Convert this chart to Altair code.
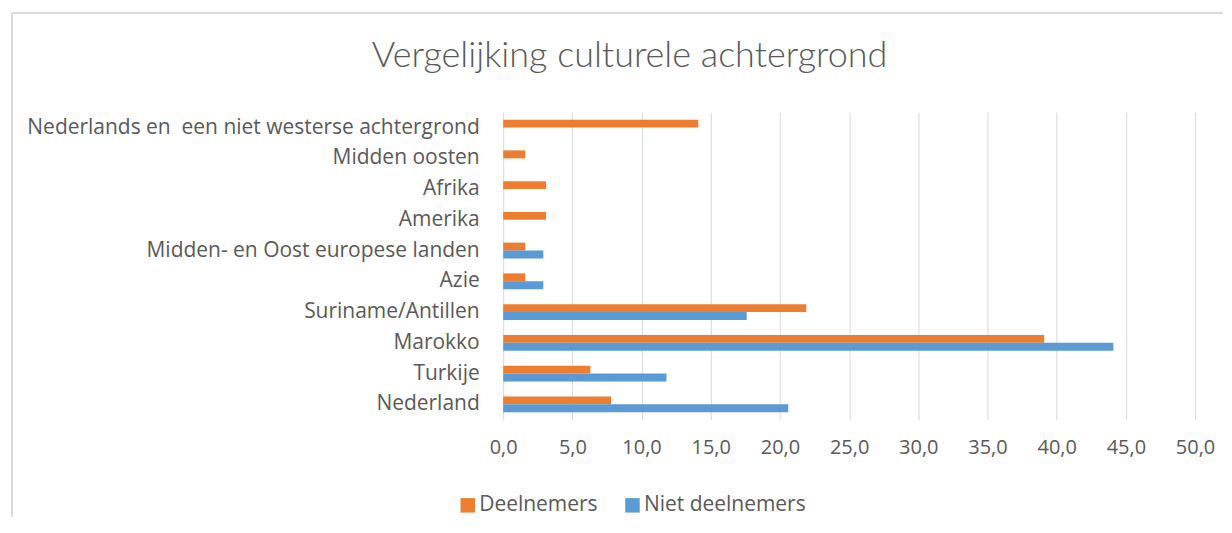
import altair as alt
import pandas as pd

categories = [
    "Nederlands en  een niet westerse achtergrond",
    "Midden oosten",
    "Afrika",
    "Amerika",
    "Midden- en Oost europese landen",
    "Azie",
    "Suriname/Antillen",
    "Marokko",
    "Turkije",
    "Nederland",
]
series = ["Deelnemers", "Niet deelnemers"]
deelnemers = [14.1, 1.6, 3.1, 3.1, 1.6, 1.6, 21.9, 39.1, 6.3, 7.8]
niet_deelnemers = [0.0, 0.0, 0.0, 0.0, 2.9, 2.9, 17.6, 44.1, 11.8, 20.6]
x_ticks = [0, 5, 10, 15, 20, 25, 30, 35, 40, 45, 50]
colors = ["#ED7D31", "#5B9BD5"]

rows = []
for c, a, b in zip(categories, deelnemers, niet_deelnemers):
    rows.append({"cat": c, "serie": series[0], "val": a})
    rows.append({"cat": c, "serie": series[1], "val": b})
df = pd.DataFrame(rows)

TEXT = "#595959"
LABEL_FONT = "Open Sans"

bars = alt.Chart(df).mark_bar(size=8).encode(
    y=alt.Y(
        "cat:N",
        sort=categories,
        title=None,
        scale=alt.Scale(paddingInner=0.48, paddingOuter=0.24),
        axis=alt.Axis(
            domain=False, ticks=False, grid=False, labelPadding=24,
            labelFontSize=21, labelFont=LABEL_FONT, labelColor=TEXT,
            labelLimit=600,
            labelExpr="replace(datum.label, '  ', ' \u00a0')",
        ),
    ),
    yOffset=alt.YOffset("serie:N", sort=series, scale=alt.Scale(paddingInner=0, paddingOuter=0)),
    x=alt.X(
        "val:Q",
        title=None,
        stack=None,
        scale=alt.Scale(domain=[0, 50], nice=False, zero=True),
        axis=alt.Axis(
            values=x_ticks, domain=False, ticks=False, grid=True,
            gridColor="#D9D9D9", gridWidth=1, labelPadding=18,
            labelFlush=False, labelOverlap=False,
            labelFontSize=20, labelFont=LABEL_FONT, labelColor=TEXT,
            labelExpr="replace(format(datum.value, '.1f'), '.', ',')",
        ),
    ),
    color=alt.Color(
        "serie:N",
        sort=series,
        scale=alt.Scale(domain=series, range=colors),
        legend=alt.Legend(
            title=None, orient="none", direction="horizontal",
            legendX=-46, legendY=383, symbolType="square", symbolSize=210,
            symbolStrokeWidth=0, labelFontSize=21, labelFont=LABEL_FONT,
            labelColor=TEXT, columnPadding=24, labelOffset=1, labelLimit=400,
        ),
    ),
)

frame_left = alt.Chart(df).mark_rule(color="#D9D9D9", strokeWidth=1.3).encode(
    x=alt.value(-492), y=alt.value(-99), y2=alt.value(405)
)
frame_top = alt.Chart(df).mark_rule(color="#D9D9D9", strokeWidth=1.3).encode(
    x=alt.value(-492), x2=alt.value(721), y=alt.value(-99)
)

chart = alt.layer(frame_left, frame_top, bars).properties(
    width=693,
    height=308,
    padding={"left": 3, "top": 4, "right": 0, "bottom": 0},
    title=alt.TitleParams(
        "Vergelijking culturele achtergrond",
        fontSize=36, font="Lato", fontWeight=300, color=TEXT,
        anchor="middle", dx=-220, offset=-90, baseline="alphabetic",
    ),
).configure_view(stroke=None)

chart.save("out.html", embed_options={"renderer": "svg", "actions": False})
